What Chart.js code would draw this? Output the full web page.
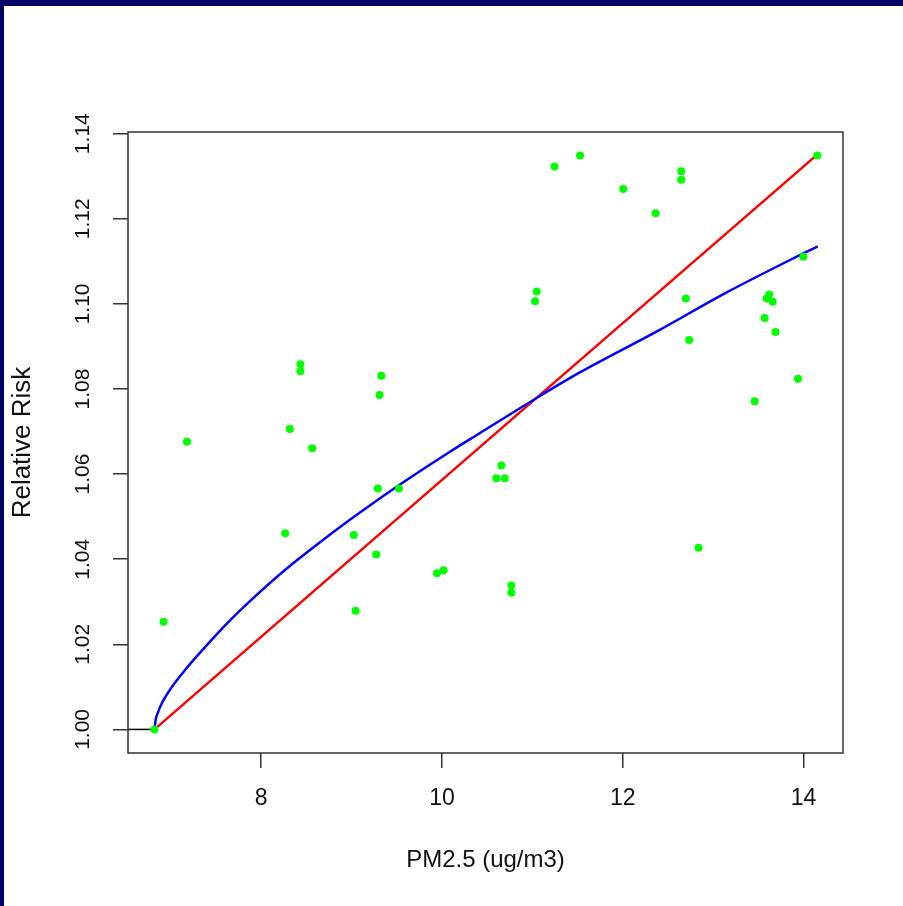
<!DOCTYPE html>
<html lang="en">
<head>
  <meta charset="UTF-8">
  <title>Relative Risk vs PM2.5</title>
  <script src="https://cdn.jsdelivr.net/npm/chart.js"></script>
  <style>
    html, body { margin: 0; padding: 0; background: #fff; }
    .wrap { position: relative; width: 903px; height: 906px; overflow: hidden; }
    #rrChart { position: absolute; left: 0; top: 0; }
    .bar-top { position: absolute; left: 0; top: 0; width: 903px; height: 6px; background: #000066; }
    .bar-left { position: absolute; left: 0; top: 0; width: 4px; height: 906px; background: #000066; }
  </style>
</head>
<body>
<div class="wrap">
  <canvas id="rrChart" width="903" height="906"></canvas>
  <div class="bar-top"></div>
  <div class="bar-left"></div>
</div>

<script>
// observed points (PM2.5, relative risk)
const obsX = [6.82, 6.92, 7.18, 8.266, 8.317, 8.435, 8.435, 8.565, 9.025, 9.044,
  9.291, 9.273, 9.524, 9.31, 9.329, 9.945, 10.019, 10.602, 10.694, 10.658,
  10.768, 10.768, 11.03, 11.049, 11.245, 11.528, 12.005, 12.363, 12.647, 12.647,
  12.699, 12.735, 12.839, 13.46, 13.57, 13.62, 13.592, 13.659, 13.69, 13.939,
  13.998, 14.153];
const obsY = [1.000, 1.0253, 1.0676, 1.0461, 1.0706, 1.0858, 1.0842, 1.0661, 1.0457, 1.0279,
  1.0566, 1.0411, 1.0566, 1.0786, 1.0831, 1.0367, 1.0374, 1.059, 1.059, 1.062,
  1.0338, 1.0321, 1.1006, 1.1029, 1.1323, 1.1349, 1.127, 1.1213, 1.1312, 1.1292,
  1.1013, 1.0915, 1.0427, 1.0771, 1.0967, 1.1022, 1.1013, 1.1005, 1.0934, 1.0824,
  1.1111, 1.1349];

// linear fit (red)
const linX = [6.82, 10.97, 14.12];
const linY = [1.0, 1.0765, 1.1345];

// curved fit (blue)
const curvX = [6.82, 6.835, 6.855, 6.893, 7.003, 7.187, 7.391, 7.612, 7.945, 8.277,
  8.72, 9.089, 9.532, 10.085, 10.417, 10.971, 11.525, 12.41, 13.15, 13.887, 14.157];
const curvY = [1.0, 1.0025, 1.0038, 1.0058, 1.0097, 1.0147, 1.0196, 1.0247, 1.0315, 1.0377,
  1.0451, 1.0509, 1.0575, 1.0652, 1.0696, 1.0769, 1.0839, 1.0939, 1.1027, 1.1107, 1.1135];

// reference line at RR = 1
const baseX = [6.527, 6.82];
const baseY = [1.0, 1.0];

const xTicks = [8, 10, 12, 14];
const yTicks = [1.00, 1.02, 1.04, 1.06, 1.08, 1.10, 1.12, 1.14];

const xMin = 6.527, xMax = 14.437;
const yMin = 0.99446, yMax = 1.1404;

const toXY = (xs, ys) => xs.map((x, i) => ({ x, y: ys[i] }));

// R-style box around the plot region
const boxPlugin = {
  id: 'box',
  afterDatasetsDraw(chart) {
    const { ctx, chartArea: a } = chart;
    ctx.save();
    ctx.strokeStyle = '#333';
    ctx.lineWidth = 1.5;
    ctx.strokeRect(a.left, a.top, a.right - a.left, a.bottom - a.top);
    ctx.restore();
  }
};

const ctx = document.getElementById('rrChart').getContext('2d');
new Chart(ctx, {
  type: 'scatter',
  data: {
    datasets: [
      { label: 'observed', data: toXY(obsX, obsY), order: 0,
        backgroundColor: '#00ff00', borderWidth: 0, pointRadius: 4 },
      { label: 'linear', data: toXY(linX, linY), order: 2, showLine: true,
        borderColor: '#ff0000', borderWidth: 2.5, pointRadius: 0 },
      { label: 'curve', data: toXY(curvX, curvY), order: 1, showLine: true,
        borderColor: '#0000ff', borderWidth: 2.5, pointRadius: 0, cubicInterpolationMode: 'monotone' },
      { label: 'base', data: toXY(baseX, baseY), order: 3, showLine: true,
        borderColor: '#000', borderWidth: 1.5, pointRadius: 0 }
    ]
  },
  options: {
    responsive: false,
    animation: false,
    layout: { padding: { top: 132, right: 60, bottom: 0, left: 0 } },
    plugins: { legend: { display: false }, tooltip: { enabled: false } },
    scales: {
      x: {
        type: 'linear', min: xMin, max: xMax,
        afterBuildTicks: s => { s.ticks = xTicks.map(v => ({ value: v })); },
        afterFit: s => { s.height = 153; },
        border: { display: false },
        grid: { drawOnChartArea: false, color: '#333', lineWidth: 1.5, tickLength: 15 },
        ticks: { color: '#111', padding: 17, font: { family: 'Liberation Sans, Arial', size: 23 } },
        title: { display: true, text: 'PM2.5 (ug/m3)', color: '#111',
          padding: { top: 0, bottom: 31 }, font: { family: 'Liberation Sans, Arial', size: 24 } }
      },
      y: {
        type: 'linear', min: yMin, max: yMax,
        afterBuildTicks: s => { s.ticks = yTicks.map(v => ({ value: v })); },
        afterFit: s => { s.width = 128; },
        border: { display: false },
        grid: { drawOnChartArea: false, color: '#333', lineWidth: 1.5, tickLength: 15 },
        ticks: { color: '#111', padding: 9, minRotation: 90, maxRotation: 90, autoSkip: false,
          crossAlign: 'center', callback: v => v.toFixed(2),
          font: { family: 'Liberation Sans, Arial', size: 21 } },
        title: { display: true, text: 'Relative Risk', color: '#111',
          padding: { top: 7, bottom: 0 }, font: { family: 'Liberation Sans, Arial', size: 26 } }
      }
    }
  },
  plugins: [boxPlugin]
});
</script>
</body>
</html>
